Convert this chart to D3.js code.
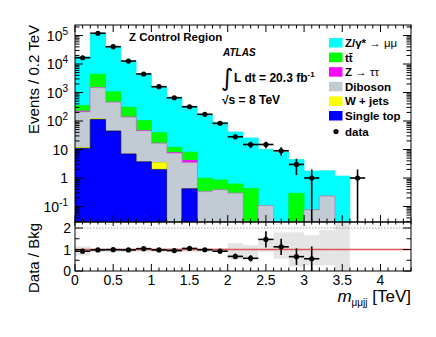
<!DOCTYPE html>
<html><head><meta charset="utf-8">
<script src="https://cdn.jsdelivr.net/npm/d3@7"></script>
<style>
html,body{margin:0;padding:0;background:#fff;}
svg{display:block;font-family:"Liberation Sans",Arial,Helvetica,sans-serif;}
</style></head>
<body>
<svg id="c" width="436" height="337"></svg>
<script>
// ---- data ----
const binLo = [0,0.2,0.4,0.6,0.8,1.0,1.2,1.4,1.6,1.8,2.0,2.2,2.4,2.6,2.8,3.0,3.2,3.4,3.6];
const binWidth = 0.2;
const singleTop = [11,113,44.6,7,3.7,2.0,0,0.42,0,0,0,0,0,0,0,0,0,0,0];
const wJets     = [0.9,8,0,0,0,1.5,0,0,0,0,0,0,0,0,0,0,0,0,0];
const diboson   = [195,1340,408,128,41,12.7,7.4,3.0,0.33,0.38,0.29,0,0.106,0,0,0.075,0.23,0,0];
const zTauTau   = [15,30,8,3,1.5,0.5,0.4,0.7,0,0,0,0,0,0,0,0,0,0,0];
const ttbar     = [130,2850,600,164,58,22,4.1,3.9,0.65,0.47,0.33,0.43,0,0,0.29,0,0,0,0];
const zMuMu     = [17650,118060,39930,12660,4196,1594,677,294,173,89.2,40.6,25,10.1,8.0,4.2,1.68,1.57,1.17,0];
const dataVals  = [16600,120000,40600,12700,4470,1600,655,317,172,83,28,15,15,9,3,1,0,0,1];
const bandLo    = [0.72,0.88,0.88,0.88,0.88,0.88,0.88,0.88,0.88,0.88,0.55,0.58,0.9,0.57,0.2,0.27,0.27,0];
const bandHi    = [1.15,1.07,1.07,1.07,1.07,1.07,1.07,1.07,1.07,1.07,1.3,1.2,1.4,1.8,1.8,1.66,1.9,2.3];
const xTickLabels = ["0","0.5","1","1.5","2","2.5","3","3.5","4"];
const yTickExp = [5,4,3,2,1,0,-1];
const ratioTicks = [0,1,2];

const components = [
  {name:"Single top", vals:singleTop, color:"#0000ff", stroke:"#00008a"},
  {name:"W + jets",   vals:wJets,     color:"#ffff00", stroke:"#d0d000"},
  {name:"Diboson",    vals:diboson,   color:"#c2cbd4", stroke:"#a9b3bd"},
  {name:"Z → ττ",     vals:zTauTau,   color:"#ff00ff", stroke:"#ff00ff"},
  {name:"tt̄",         vals:ttbar,     color:"#00ff00", stroke:"#00ee00"},
  {name:"Z/γ* → μμ",  vals:zMuMu,     color:"#00ffff", stroke:"#00f0f0"}
];

// ---- layout ----
const svg = d3.select("#c");
const L=75, R=411, T=25, MID=222, B=271;
const x = d3.scaleLinear().domain([0,4.4]).range([L,R]);
const yMin = 0.0286;
const y = d3.scaleLog().domain([yMin,2.34e5]).range([MID,T]);
const yr = d3.scaleLinear().domain([0,2.28]).range([B,MID]);

const defs = svg.append("defs");
defs.append("clipPath").attr("id","cTop").append("rect").attr("x",L).attr("y",T).attr("width",R-L).attr("height",MID-T);
defs.append("clipPath").attr("id","cBot").append("rect").attr("x",L).attr("y",MID).attr("width",R-L).attr("height",B-MID);

// cumulative
const nb = binLo.length;
let cum = new Array(nb).fill(0);
const cums = components.map(c => { cum = cum.map((v,i)=>v+c.vals[i]); return cum.slice(); });

const gTop = svg.append("g").attr("clip-path","url(#cTop)");
function stepPath(vals){
  let d = `M${x(binLo[0])},${MID+2}`;
  vals.forEach((v,i)=>{
    const yy = v>0 ? y(Math.max(v,yMin*0.5)) : MID+2;
    d += `L${x(binLo[i])},${yy}L${x(binLo[i]+binWidth)},${yy}`;
  });
  d += `L${x(binLo[nb-1]+binWidth)},${MID+2}Z`;
  return d;
}
for(let k=components.length-1;k>=0;k--){
  gTop.append("path").attr("d",stepPath(cums[k]))
    .attr("fill",components[k].color).attr("stroke",components[k].stroke).attr("stroke-width",0.7);
}

// data points top
const dg = gTop.append("g");
dataVals.forEach((n,i)=>{
  if(n<=0) return;
  const cx = x(binLo[i]+binWidth/2), cy = y(n);
  const e = Math.sqrt(n);
  dg.append("line").attr("x1",x(binLo[i])).attr("x2",x(binLo[i]+binWidth)).attr("y1",cy).attr("y2",cy).attr("stroke","#000").attr("stroke-width",1.6);
  const lo = n-e>0 ? y(n-e) : MID+5;
  dg.append("line").attr("x1",cx).attr("x2",cx).attr("y1",y(n+e)).attr("y2",lo).attr("stroke","#000").attr("stroke-width",1.6);
  dg.append("circle").attr("cx",cx).attr("cy",cy).attr("r",2.6).attr("fill","#000");
});

// ---- ratio panel ----
const gBot = svg.append("g").attr("clip-path","url(#cBot)");
const total = cums[cums.length-1];
bandLo.forEach((lo,i)=>{
  if(!(total[i]>0)) return;
  gBot.append("rect").attr("x",x(binLo[i])).attr("width",x(binLo[i]+binWidth)-x(binLo[i]))
    .attr("y",yr(bandHi[i])).attr("height",yr(lo)-yr(bandHi[i]))
    .attr("fill","#cfcfcf").attr("opacity",0.55);
});
gBot.append("line").attr("x1",L).attr("x2",R).attr("y1",yr(2)).attr("y2",yr(2)).attr("stroke","#888").attr("stroke-width",0.8).attr("stroke-dasharray","1.5,1.5");
gBot.append("line").attr("x1",L).attr("x2",R).attr("y1",yr(1)).attr("y2",yr(1)).attr("stroke","#e05555").attr("stroke-width",1.3);
dataVals.forEach((n,i)=>{
  if(n<=0 || !(total[i]>0)) return;
  const r = n/total[i], e = Math.sqrt(n)/total[i];
  const cx = x(binLo[i]+binWidth/2), cy = yr(r);
  gBot.append("line").attr("x1",x(binLo[i])).attr("x2",x(binLo[i]+binWidth)).attr("y1",cy).attr("y2",cy).attr("stroke","#000").attr("stroke-width",1.6);
  gBot.append("line").attr("x1",cx).attr("x2",cx).attr("y1",yr(r+e)).attr("y2",yr(Math.max(r-e,0))).attr("stroke","#000").attr("stroke-width",1.6);
  gBot.append("circle").attr("cx",cx).attr("cy",cy).attr("r",2.6).attr("fill","#000");
});

// ---- frames & ticks ----
const ax = svg.append("g").attr("stroke","#000").attr("stroke-width",1).attr("fill","none");
ax.append("rect").attr("x",L).attr("y",T).attr("width",R-L).attr("height",MID-T);
ax.append("rect").attr("x",L).attr("y",MID).attr("width",R-L).attr("height",B-MID);
// x ticks
for(let t=0;t<=44;t++){
  const v=t/10, xx=x(v), major = t%5===0;
  const lt = major?7:3.5, lb = major?7:3.5;
  ax.append("line").attr("x1",xx).attr("x2",xx).attr("y1",T).attr("y2",T+lt);
  ax.append("line").attr("x1",xx).attr("x2",xx).attr("y1",MID).attr("y2",MID-lt);
  ax.append("line").attr("x1",xx).attr("x2",xx).attr("y1",B).attr("y2",B-lb);
  ax.append("line").attr("x1",xx).attr("x2",xx).attr("y1",MID).attr("y2",MID+(major?4:2.5));
}
// y log ticks
for(let e=-2;e<=5;e++){
  for(let m=1;m<=9;m++){
    const v=m*Math.pow(10,e);
    if(v<yMin||v>2.34e5) continue;
    const yy=y(v), len = m===1?8:4.5;
    ax.append("line").attr("x1",L).attr("x2",L+len).attr("y1",yy).attr("y2",yy);
    ax.append("line").attr("x1",R).attr("x2",R-len).attr("y1",yy).attr("y2",yy);
  }
}
// ratio ticks
for(let t=0;t<=4;t++){
  const v=t*0.5, yy=yr(v), len = t%2===0?8:4.5;
  ax.append("line").attr("x1",L).attr("x2",L+len).attr("y1",yy).attr("y2",yy);
  ax.append("line").attr("x1",R).attr("x2",R-len).attr("y1",yy).attr("y2",yy);
}

// ---- labels ----
const tx = svg.append("g").attr("fill","#000");
xTickLabels.forEach((s,i)=>{
  tx.append("text").attr("x",x(i*0.5)).attr("y",285).attr("text-anchor","middle").attr("font-size",14).text(s);
});
yTickExp.forEach(e=>{
  const t = tx.append("text").attr("x",68).attr("y",y(Math.pow(10,e))+5).attr("text-anchor","end").attr("font-size",14);
  if(e===0) t.text("1");
  else if(e===1) t.text("10");
  else { t.append("tspan").text("10"); t.append("tspan").attr("dy",-6).attr("font-size",10).text(String(e)); }
});
ratioTicks.forEach(v=>{
  tx.append("text").attr("x",71).attr("y",yr(v)+5).attr("text-anchor","end").attr("font-size",14).text(String(v));
});
tx.append("text").attr("transform","translate(39,25) rotate(-90)").attr("text-anchor","end").attr("font-size",15).text("Events / 0.2 TeV");
tx.append("text").attr("transform","translate(39,258) rotate(-90)").attr("text-anchor","middle").attr("font-size",15).text("Data / Bkg");
const xt = tx.append("text").attr("x",411).attr("y",302).attr("text-anchor","end").attr("font-size",17);
xt.append("tspan").attr("font-style","italic").text("m");
xt.append("tspan").attr("font-size",10).attr("dy",4).text("μμjj");
xt.append("tspan").attr("dy",-4).text(" [TeV]");

// annotations
tx.append("text").attr("x",129).attr("y",41).attr("font-size",11.5).attr("font-weight","bold").text("Z Control Region");
tx.append("text").attr("x",223).attr("y",56).attr("font-size",10).attr("font-weight","bold").attr("font-style","italic").text("ATLAS");
tx.append("text").attr("x",221).attr("y",86).attr("font-size",24).attr("font-family","DejaVu Sans").text("∫");
const lum = tx.append("text").attr("x",234).attr("y",82).attr("font-size",12).attr("font-weight","bold");
lum.append("tspan").text("L dt = 20.3 fb");
lum.append("tspan").attr("dy",-5).attr("font-size",8).text("-1");
tx.append("text").attr("x",222).attr("y",104).attr("font-size",12).attr("font-weight","bold").text("√s = 8 TeV");

// legend
const legOrder = [5,4,3,2,1,0];
legOrder.forEach((k,j)=>{
  const top = 38 + j*14.6;
  tx.append("rect").attr("x",329).attr("y",top).attr("width",13.5).attr("height",9.5).attr("fill",components[k].color);
  const t = tx.append("text").attr("x",345).attr("y",top+9).attr("font-size",11.5).attr("font-weight","bold");
  const nm = components[k].name;
  if(nm.startsWith("Z/γ*")){ t.append("tspan").text("Z/γ*"); t.append("tspan").attr("font-weight","normal").text(" → μμ"); }
  else if(nm.startsWith("Z → ")){ t.append("tspan").text("Z"); t.append("tspan").attr("font-weight","normal").text(" → ττ"); }
  else t.text(nm);
});
tx.append("circle").attr("cx",336).attr("cy",131.5).attr("r",2.6);
tx.append("text").attr("x",345).attr("y",136).attr("font-size",11.5).attr("font-weight","bold").text("data");
</script>
</body></html>
